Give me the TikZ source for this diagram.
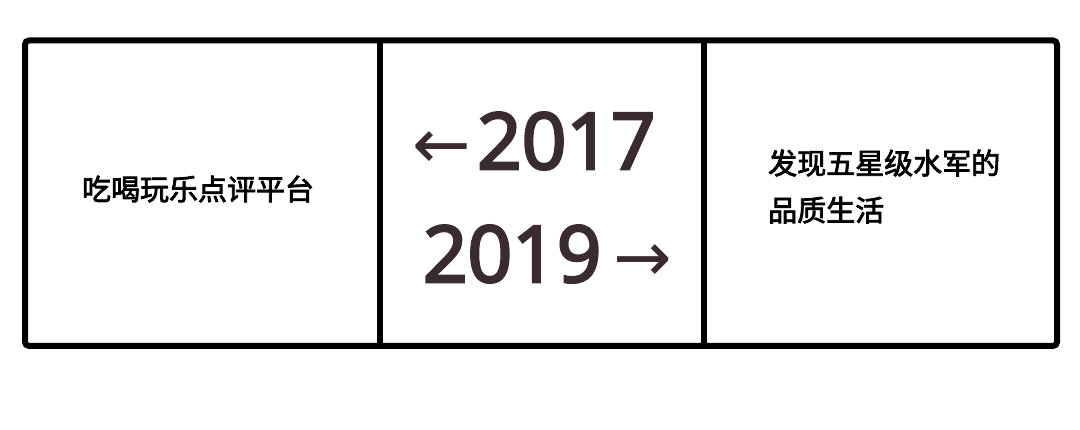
\documentclass[tikz,border=0pt]{standalone}
\usepackage{fontspec}
\setmainfont{Open Sans}[BoldFont={Open Sans},BoldFeatures={FakeBold=3.5}]
\newfontfamily\cjk{Noto Sans CJK SC}[BoldFont={Noto Sans CJK SC},BoldFeatures={FakeBold=2.6}]
\newfontfamily\arrowfont{DejaVu Sans}
\usetikzlibrary{positioning}
\definecolor{yearColor}{HTML}{3A2A31}

\begin{document}
\begin{tikzpicture}[x=1pt,y=-1pt]

          \tikzstyle{frameLine} = [line width=6pt,black];
          \tikzstyle{cellText} = [inner sep=0pt,font=\cjk\bfseries\fontsize{29}{47}\selectfont];
          \tikzstyle{yearText} = [inner sep=0pt,yearColor,font=\bfseries\fontsize{78}{78}\selectfont];

          \useasboundingbox (0,0) rectangle (1080,430);

          \coordinate (tl) at (25,40.5);
          \coordinate (br) at (1057,346);
          \coordinate (d1top) at (379.5,40.5);
          \coordinate (d1bot) at (379.5,346);
          \coordinate (d2top) at (703.5,40.5);
          \coordinate (d2bot) at (703.5,346);

          \node[cellText] (platform) at (198,189) {吃喝玩乐点评平台};
          \node[yearText] (from) at (534,141) {{\arrowfont\mdseries\fontsize{70}{70}\selectfont ←}\hspace{6pt}2017};
          \node[yearText] (to) at (547.5,254) {2019\hspace{12pt}{\arrowfont\mdseries\fontsize{70}{70}\selectfont →}};
          \node[cellText,anchor=west,align=left] (life) at (768,186.5) {发现五星级水军的\\品质生活};

          \draw[frameLine,rounded corners=4pt] (tl) rectangle (br);
          \draw[frameLine] (d1top) -- (d1bot);
          \draw[frameLine] (d2top) -- (d2bot);
        \end{tikzpicture}
\end{document}
